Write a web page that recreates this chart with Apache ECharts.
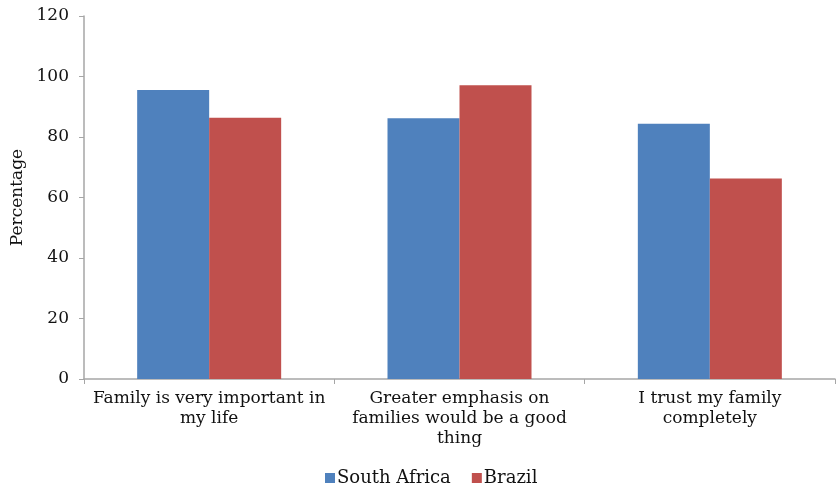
<!DOCTYPE html>
<html>
<head>
<meta charset="utf-8">
<script src="https://cdn.jsdelivr.net/npm/echarts@6/dist/echarts.min.js"></script>
<style>
  html, body { margin: 0; padding: 0; background: #fff; }
  #chart { width: 837px; height: 490px; }
</style>
</head>
<body>
<div id="chart"></div>
<script>
const categories = [
  'Family is very important in\nmy life',
  'Greater emphasis on\nfamilies would be a good\nthing',
  'I trust my family\ncompletely'
];
const southAfrica = [95.5, 86.2, 84.4];
const brazil = [86.4, 97.1, 66.3];
const yTicks = { min: 0, max: 120, interval: 20 };

const FONT = '"DejaVu Serif", serif';
const chart = echarts.init(document.getElementById('chart'));
chart.setOption({
  animation: false,
  textStyle: { fontFamily: FONT, color: '#000' },
  grid: { left: 84, right: 2, top: 16, bottom: 111, containLabel: false },
  legend: {
    top: 469,
    left: 325,
    padding: 0,
    itemWidth: 10,
    itemHeight: 10,
    itemGap: 21,
    icon: 'rect',
    textStyle: { fontFamily: FONT, fontSize: 18, color: '#111', padding: [0, 0, 0, -3] },
    data: ['South Africa', 'Brazil']
  },
  xAxis: {
    type: 'category',
    data: categories,
    axisLine: { lineStyle: { color: '#a6a6a6', width: 1.5 } },
    axisTick: { show: true, length: 5, lineStyle: { color: '#a6a6a6' } },
    axisLabel: { fontFamily: FONT, fontSize: 17, color: '#111', lineHeight: 20, margin: 10, interval: 0 }
  },
  yAxis: {
    type: 'value',
    min: yTicks.min,
    max: yTicks.max,
    interval: yTicks.interval,
    name: 'Percentage',
    nameLocation: 'middle',
    nameGap: 56,
    nameTextStyle: { fontFamily: FONT, fontSize: 17, color: '#111' },
    splitLine: { show: false },
    axisLine: { show: true, lineStyle: { color: '#a6a6a6', width: 1.5 } },
    axisTick: { show: true, length: 5, lineStyle: { color: '#a6a6a6' } },
    axisLabel: { fontFamily: FONT, fontSize: 17, color: '#111', margin: 15 }
  },
  series: [
    {
      name: 'South Africa',
      type: 'bar',
      data: southAfrica,
      barWidth: 72,
      barGap: '0%',
      itemStyle: { color: '#4F81BD' }
    },
    {
      name: 'Brazil',
      type: 'bar',
      data: brazil,
      barWidth: 72,
      itemStyle: { color: '#C0504D' }
    }
  ]
});
</script>
</body>
</html>
